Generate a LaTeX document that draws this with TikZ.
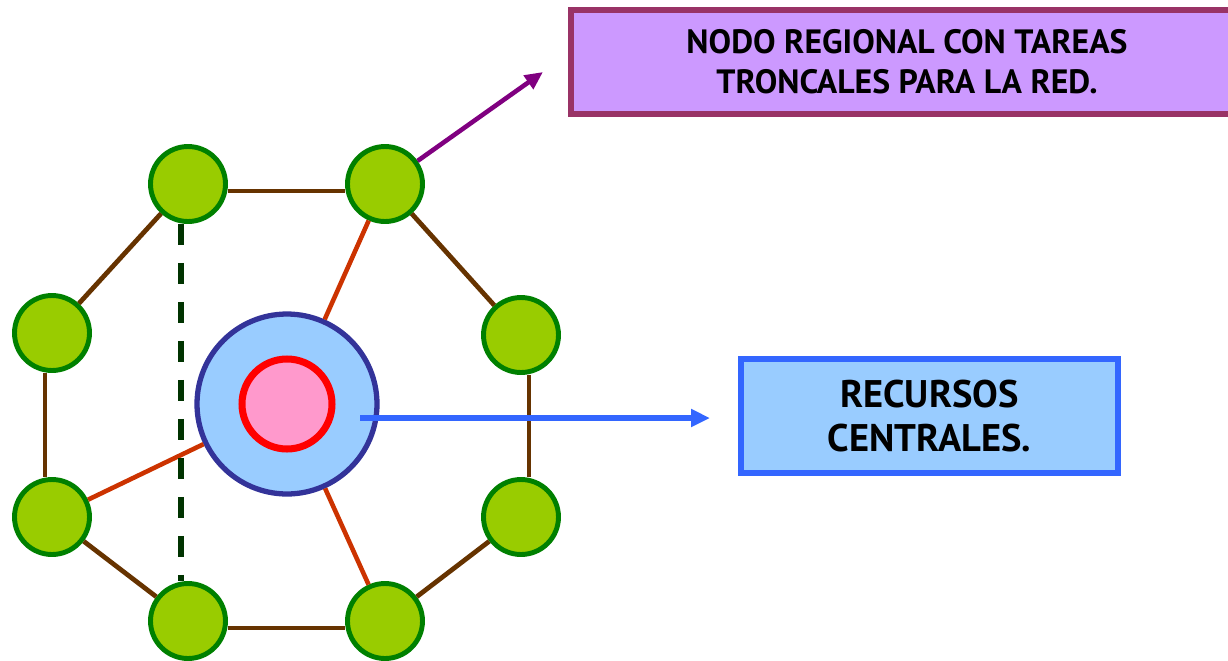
\documentclass[tikz,border=0pt]{standalone}
\usepackage{fontspec}
\setmainfont{PT Sans}
\usetikzlibrary{arrows.meta}

\definecolor{sitefill}{HTML}{99CC00}
\definecolor{sitedraw}{HTML}{008000}
\definecolor{ringbrown}{HTML}{663300}
\definecolor{spokered}{HTML}{CC3300}
\definecolor{trunkgreen}{HTML}{003300}
\definecolor{hubfill}{HTML}{99CCFF}
\definecolor{hubdraw}{HTML}{333399}
\definecolor{corefill}{HTML}{FF99CC}
\definecolor{regfill}{HTML}{CC99FF}
\definecolor{regdraw}{HTML}{993366}
\definecolor{regarrow}{HTML}{800080}
\definecolor{recdraw}{HTML}{3366FF}

\tikzset{
  site/.style={circle, draw=sitedraw, fill=sitefill, line width=2.8pt,
    minimum size=1.5cm, inner sep=0pt},
  ring/.style={draw=ringbrown, line width=2.7pt},
  spoke/.style={draw=spokered, line width=2.6pt},
  infobox/.style={rectangle, line width=3.4pt, align=center, inner sep=0pt}
}

\begin{document}
\begin{tikzpicture}[x=0.02cm, y=-0.02cm]
        \useasboundingbox (0,0) rectangle (1228,660);

        % Draw the sites of the ring
        \node[site] (tl) at (188,184) {}; % Top left
        \node[site] (tr) at (385,184) {}; % Top right
        \node[site] (lu) at (52,333) {};  % Left upper
        \node[site] (ru) at (521,335) {}; % Right upper
        \node[site] (ll) at (52,517) {};  % Left lower
        \node[site] (rl) at (521,517) {}; % Right lower
        \node[site] (bl) at (188,621) {}; % Bottom left
        \node[site] (br) at (385,621) {}; % Bottom right

        % Draw the central resources
        \node[circle, draw=hubdraw, fill=hubfill, line width=3pt,
          minimum size=3.6cm, inner sep=0pt] (hub) at (287,404) {};
        \node[circle, draw=red, fill=corefill, line width=4pt,
          minimum size=1.8cm, inner sep=0pt] (core) at (287,404) {};

        % Draw ring lines
        \draw[ring] ([yshift=-0.14cm]tl.east) -- ([yshift=-0.14cm]tr.west);
        \draw[ring] ([yshift=-0.14cm]bl.east) -- ([yshift=-0.14cm]br.west);
        \draw[ring] ([xshift=-0.14cm]lu.south) -- ([xshift=-0.14cm]ll.north);
        \draw[ring] ([xshift=0.16cm]ru.south) -- ([xshift=0.16cm]rl.north);
        \draw[ring] (tl) -- (lu);
        \draw[ring] (tr) -- (ru);
        \draw[ring] (ll) -- (bl);
        \draw[ring] (rl) -- (br);

        % Draw spokes to the centre
        \draw[spoke] (tr) -- (hub);
        \draw[spoke] (hub) -- (ll);
        \draw[spoke] (hub) -- (br);

        % Draw dashed trunk line
        \draw[trunkgreen, line width=3.4pt, dash pattern=on 0.42cm off 0.36cm]
          ([xshift=-0.14cm]tl.south) -- ([xshift=-0.14cm]bl.north);

        % Add box "nodo regional"
        \node[infobox, draw=regdraw, fill=regfill, minimum width=13.44cm,
          minimum height=2.08cm, font=\bfseries\fontsize{19.2}{22.7}\selectfont]
          (reg) at (907,62) {NODO REGIONAL CON TAREAS\\TRONCALES PARA LA RED.};
        \coordinate (regtip) at (543,72);
        \draw[regarrow, line width=2.6pt, -{Triangle[length=0.36cm, width=0.32cm]}]
          (tr) -- (regtip); % Arrow to regional box

        % Add box "recursos centrales"
        \node[infobox, draw=recdraw, fill=hubfill, minimum width=7.56cm,
          minimum height=2.29cm, font=\bfseries\fontsize{21.9}{24.9}\selectfont]
          (rec) at (929.5,416) {RECURSOS\\CENTRALES.};
        \coordinate (recfrom) at (360,418);
        \coordinate (recto) at (710,418);
        \draw[recdraw, line width=3.2pt, -{Triangle[length=0.38cm, width=0.34cm]}]
          (recfrom) -- (recto); % Arrow to resources box
\end{tikzpicture}
\end{document}
